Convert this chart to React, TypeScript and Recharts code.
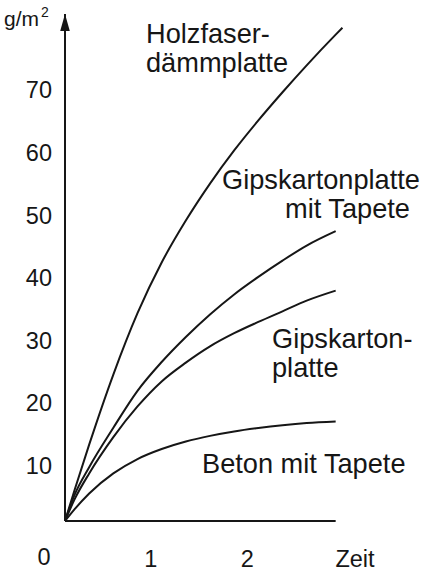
import { LineChart, Line, XAxis, YAxis, ReferenceLine, ReferenceDot } from 'recharts';

const INK = '#161616';
const FONT = '"Liberation Sans", Arial, sans-serif';

// Zeit (x) und Feuchteaufnahme in g/m² (y)
const zeit = [0, 0.1, 0.25, 0.5, 0.75, 1, 1.25, 1.5, 1.75, 2, 2.25, 2.5, 2.8, 2.87];
const holzfaser = [0, 5.0, 12.2, 23.4, 33.2, 41.3, 48.0, 53.9, 59.2, 64.0, 68.5, 72.8, 77.7, 78.8];
const gipsTapete = [0, 4.2, 8.6, 14.9, 20.8, 25.4, 29.4, 33.0, 36.2, 39.0, 41.6, 44.0, 46.3, null];
const gipskarton = [0, 3.5, 7.6, 13.4, 18.3, 22.3, 25.3, 27.9, 30.0, 31.8, 33.5, 35.2, 36.8, null];
const beton = [0, 1.9, 4.4, 7.6, 9.9, 11.5, 12.7, 13.6, 14.3, 14.85, 15.3, 15.65, 15.9, null];

const yTicks = [10, 20, 30, 40, 50, 60, 70];
const xTicks = [0, 1, 2, 3];
const xTickLabels = ['0', '1', '2', 'Zeit'];

const rows = zeit.map((t, i) => ({
  t,
  holz: holzfaser[i],
  gipsTap: gipsTapete[i],
  gips: gipskarton[i],
  beton: beton[i],
}));

const YTick = (props: any) => {
  const { x, y, payload } = props;
  return (
    <text x={x} y={y + 15.5} textAnchor="end" fontSize={23.5} fill={INK} fontFamily={FONT}>
      {payload.value}
    </text>
  );
};

const XTick = (props: any) => {
  const { x, y, payload, index } = props;
  const label = xTickLabels[index];
  // the corner "0" sits lower-left, the numbers are a bit left of their tick
  const dx = payload.value === 0 ? -21 : index === xTicks.length - 1 ? 0 : -11;
  const dy = payload.value === 0 ? 36 : 38;
  return (
    <text x={x + dx} y={y + dy} textAnchor="middle" fontSize={23.5} fill={INK} fontFamily={FONT}>
      {label}
    </text>
  );
};

const Arrow = (props: any) => {
  const { cx, cy } = props;
  return <polygon points={`${cx},${cy} ${cx - 4.8},${cy + 17} ${cx + 4.8},${cy + 17}`} fill={INK} />;
};

const label = { fontSize: 27.2, fill: INK, fontFamily: FONT };

export default function App() {
  return (
    <div style={{ position: 'absolute', left: 0, top: 0, width: 427, height: 572, background: '#fff' }}>
      <LineChart width={427} height={572} data={rows} margin={{ top: 14, right: 72, bottom: 0, left: 0 }}>
        <XAxis
          dataKey="t"
          type="number"
          domain={[0, 3]}
          ticks={xTicks}
          axisLine={false}
          tickLine={false}
          height={51}
          tick={<XTick />}
          interval={0}
        />
        <YAxis
          type="number"
          domain={[0, 81]}
          ticks={yTicks}
          width={65}
          axisLine={{ stroke: INK, strokeWidth: 2 }}
          tickLine={false}
          tickMargin={7}
          tick={<YTick />}
          interval={0}
        />
        <ReferenceLine segment={[{ x: 0, y: 0 }, { x: 2.8, y: 0 }]} stroke={INK} strokeWidth={2.2} />
        <ReferenceDot x={0} y={81} r={5} shape={<Arrow />} />

        <Line type="monotone" dataKey="holz" stroke={INK} strokeWidth={2} dot={false} isAnimationActive={false} />
        <Line type="monotone" dataKey="gipsTap" stroke={INK} strokeWidth={2} dot={false} isAnimationActive={false} />
        <Line type="monotone" dataKey="gips" stroke={INK} strokeWidth={2} dot={false} isAnimationActive={false} />
        <Line type="monotone" dataKey="beton" stroke={INK} strokeWidth={2} dot={false} isAnimationActive={false} />

        <text x={4} y={26} fontSize={21} fill={INK} fontFamily={FONT}>
          g/m<tspan fontSize={14} dx={2} dy={-9}>2</tspan>
        </text>
        <text x={146} y={43} {...label}>Holzfaser-</text>
        <text x={146} y={72} {...label}>dämmplatte</text>
        <text x={222} y={189} {...label}>Gipskartonplatte</text>
        <text x={285} y={218} {...label}>mit Tapete</text>
        <text x={272} y={348} {...label}>Gipskarton-</text>
        <text x={272} y={377} {...label}>platte</text>
        <text x={202} y={473} {...label}>Beton mit Tapete</text>
      </LineChart>
    </div>
  );
}
